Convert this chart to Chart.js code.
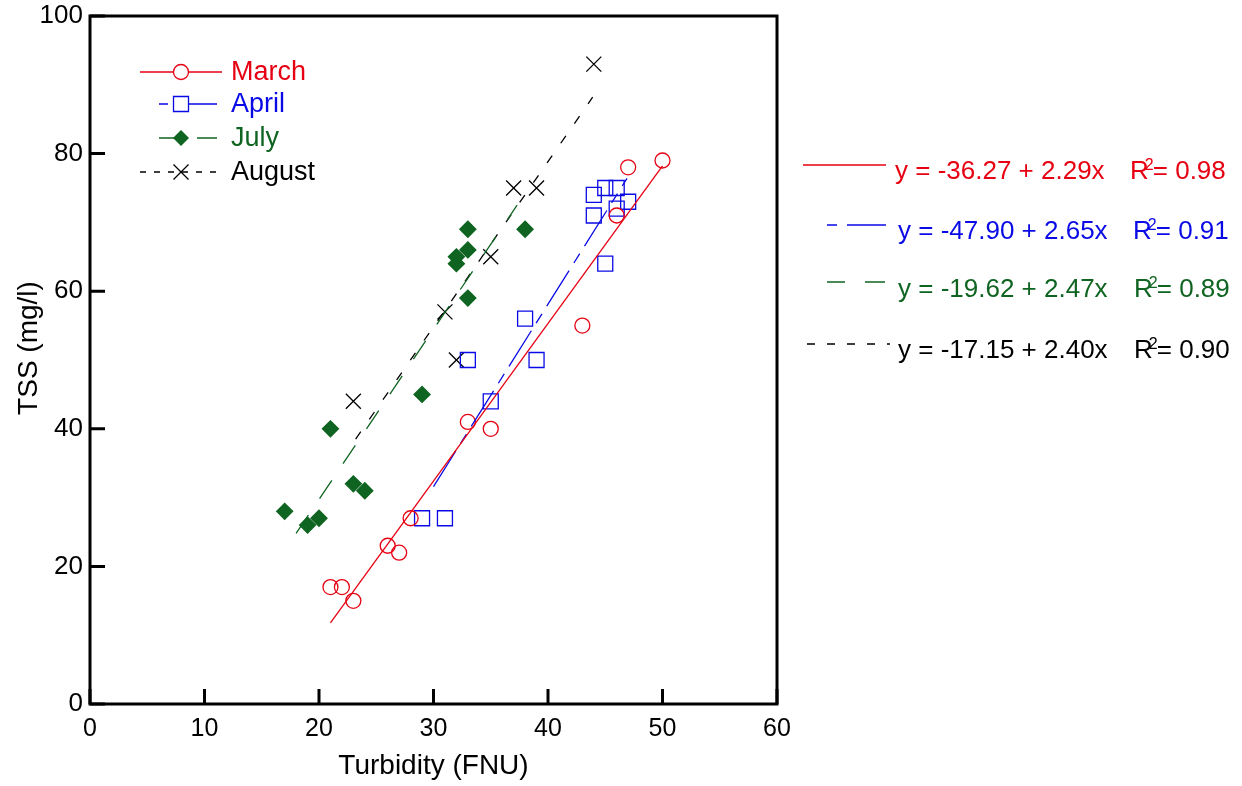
<!DOCTYPE html>
<html>
<head>
<meta charset="utf-8">
<title>TSS vs Turbidity</title>
<script src="https://cdn.jsdelivr.net/npm/chart.js@4.4.0/dist/chart.umd.min.js"></script>
<style>
html, body { margin: 0; padding: 0; background: #fff; }
#wrap { width: 1242px; height: 786px; }
</style>
</head>
<body>
<div id="wrap"><canvas id="grafic" width="1242" height="786"></canvas></div>
<script>
// Data
const marchX = [21, 22, 23, 26, 27, 28, 33, 35, 43, 46, 47, 50];
const marchY = [17, 17, 15, 23, 22, 27, 41, 40, 55, 71, 78, 79];
const aprilX = [29, 31, 33, 35, 38, 39, 44, 44, 45, 45, 46, 46, 47];
const aprilY = [27, 27, 50, 44, 56, 50, 71, 74, 64, 75, 72, 75, 73];
const julyX = [17, 19, 20, 21, 23, 24, 29, 32, 32, 33, 33, 33, 38];
const julyY = [28, 26, 27, 40, 32, 31, 45, 64, 65, 59, 66, 69, 69];
const augustX = [23, 31, 32, 35, 37, 39, 44];
const augustY = [44, 57, 50, 65, 75, 75, 93];

// Regression line ends
const fitMarchX = [21, 50];
const fitMarchY = [11.8, 78.2];
const fitAprilX = [30, 46.9];
const fitAprilY = [31.6, 76.4];
const fitJulyX = [18, 37.3];
const fitJulyY = [24.8, 72.5];
const fitAugustX = [23.2, 43.9];
const fitAugustY = [38.5, 88.2];

// Ticks and labels
const xTicks = [0, 10, 20, 30, 40, 50, 60];
const yTicks = [0, 20, 40, 60, 80, 100];
const legendNames = ['March', 'April', 'July', 'August'];
const equations = ['y = -36.27 + 2.29x', 'y = -47.90 + 2.65x', 'y = -19.62 + 2.47x', 'y = -17.15 + 2.40x'];
const rSquared = ['= 0.98', '= 0.91', '= 0.89', '= 0.90'];

// Colours and styles
const RED = '#e60012', BLUE = '#0a0ae6', GREEN = '#0e6420', BLACK = '#000';
const FONT = '"Liberation Sans", Arial, sans-serif';
const dashMarch = [], dashApril = [42, 9, 11, 9], dashJuly = [22, 20], dashAugust = [9, 15];

function points(xs, ys) { return xs.map((x, i) => ({ x: x, y: ys[i] })); }

function fitSet(xs, ys, color, dash) {
    return { type: 'line', data: points(xs, ys), borderColor: color, borderWidth: 1.3, borderDash: dash,
             pointRadius: 0, fill: false, tension: 0 };
}
function dotSet(xs, ys, color, style, r, fillColor) {
    return { type: 'scatter', data: points(xs, ys), showLine: false, pointStyle: style, pointRadius: r,
             pointHoverRadius: r, borderColor: color, backgroundColor: fillColor, pointBorderWidth: 1.3 };
}

// Draw a marker by hand (for legend)
function marker(ctx, kind, x, y, color) {
    ctx.save();
    ctx.setLineDash([]);
    ctx.strokeStyle = color; ctx.fillStyle = color; ctx.lineWidth = 1.3;
    ctx.beginPath();
    if (kind === 'circle') { ctx.fillStyle = '#fff'; ctx.arc(x, y, 7.5, 0, Math.PI * 2); ctx.fill(); ctx.stroke(); }
    if (kind === 'rect') { ctx.fillStyle = '#fff'; ctx.rect(x - 7.5, y - 7.5, 15, 15); ctx.fill(); ctx.stroke(); }
    if (kind === 'diamond') { ctx.moveTo(x, y - 8); ctx.lineTo(x + 8, y); ctx.lineTo(x, y + 8); ctx.lineTo(x - 8, y); ctx.closePath(); ctx.fill(); }
    if (kind === 'cross') { ctx.moveTo(x - 7.5, y - 7.5); ctx.lineTo(x + 7.5, y + 7.5); ctx.moveTo(x + 7.5, y - 7.5); ctx.lineTo(x - 7.5, y + 7.5); ctx.stroke(); }
    ctx.restore();
}

// line pieces [x1, x2] at height y
function segs(ctx, list, y, color) {
    ctx.save();
    ctx.strokeStyle = color; ctx.lineWidth = 1.3;
    ctx.beginPath();
    list.forEach(s => { ctx.moveTo(s[0], y); ctx.lineTo(s[1], y); });
    ctx.stroke();
    ctx.restore();
}
function dashLine(ctx, x1, x2, y, color, dash) {
    ctx.save();
    ctx.strokeStyle = color; ctx.lineWidth = 1.3;
    ctx.setLineDash(dash);
    ctx.beginPath(); ctx.moveTo(x1, y); ctx.lineTo(x2, y); ctx.stroke();
    ctx.restore();
}

// Frame, inner ticks, titles and both legends
const extras = {
    id: 'extras',
    afterDraw(chart) {
        const { ctx, chartArea: a, scales } = chart;
        ctx.save();
        ctx.strokeStyle = '#000'; ctx.lineWidth = 3;
        ctx.strokeRect(a.left, a.top, a.right - a.left, a.bottom - a.top);
        ctx.beginPath();
        xTicks.forEach(v => { const px = scales.x.getPixelForValue(v); ctx.moveTo(px, a.bottom); ctx.lineTo(px, a.bottom - 15); });
        yTicks.forEach(v => { const py = scales.y.getPixelForValue(v); ctx.moveTo(a.left, py); ctx.lineTo(a.left + 15, py); });
        ctx.stroke();

        // axis titles
        ctx.fillStyle = '#000';
        ctx.font = '28px ' + FONT;
        ctx.textAlign = 'center'; ctx.textBaseline = 'alphabetic';
        ctx.fillText('Turbidity (FNU)', (a.left + a.right) / 2, 774);
        ctx.save();
        ctx.translate(37, 348); ctx.rotate(-Math.PI / 2);
        ctx.fillText('TSS (mg/l)', 0, 0);
        ctx.restore();

        // legend inside the plot
        const colors = [RED, BLUE, GREEN, BLACK];
        const kinds = ['circle', 'rect', 'diamond', 'cross'];
        const legY = [72, 104, 138, 172];
        segs(ctx, [[140, 222]], legY[0], RED);
        segs(ctx, [[159, 168], [174, 217]], legY[1], BLUE);
        segs(ctx, [[159, 176], [197, 217]], legY[2], GREEN);
        dashLine(ctx, 140, 222, legY[3], BLACK, [6, 8]);
        legendNames.forEach((n, i) => {
            marker(ctx, kinds[i], 181, legY[i], colors[i]);
            ctx.fillStyle = colors[i];
            ctx.font = '27px ' + FONT;
            ctx.textAlign = 'left'; ctx.textBaseline = 'middle';
            ctx.fillText(n, 231, legY[i] + 1);
        });

        // regression equations on the right
        const eqLineY = [165, 225, 282, 344];
        const eqTextY = [172, 232, 290, 351];
        const rX = [1130, 1133, 1134, 1134];
        segs(ctx, [[803, 886]], eqLineY[0], RED);
        segs(ctx, [[827, 837], [847, 886]], eqLineY[1], BLUE);
        segs(ctx, [[827, 845], [865, 885]], eqLineY[2], GREEN);
        dashLine(ctx, 807, 890, eqLineY[3], BLACK, [8, 12]);
        equations.forEach((e, i) => {
            ctx.fillStyle = colors[i];
            ctx.textAlign = 'left'; ctx.textBaseline = 'middle';
            ctx.font = '26px ' + FONT;
            ctx.fillText(e, i === 0 ? 895 : 898, eqTextY[i]);
            ctx.fillText('R', rX[i], eqTextY[i]);
            const rw = ctx.measureText('R').width;
            ctx.fillText(rSquared[i], rX[i] + rw + 4, eqTextY[i]);
            ctx.font = '16px ' + FONT;
            ctx.textBaseline = 'top';
            ctx.fillText('2', rX[i] + rw - 4, eqTextY[i] - 14);
        });
        ctx.restore();
    }
};

const grafic = new Chart(document.getElementById('grafic').getContext('2d'), {
    data: {
        datasets: [
            fitSet(fitMarchX, fitMarchY, RED, dashMarch),
            fitSet(fitAprilX, fitAprilY, BLUE, dashApril),
            fitSet(fitJulyX, fitJulyY, GREEN, dashJuly),
            fitSet(fitAugustX, fitAugustY, BLACK, dashAugust),
            dotSet(marchX, marchY, RED, 'circle', 7.5, 'rgba(0,0,0,0)'),
            dotSet(aprilX, aprilY, BLUE, 'rect', 10.6, 'rgba(0,0,0,0)'),
            dotSet(julyX, julyY, GREEN, 'rectRot', 8, GREEN),
            dotSet(augustX, augustY, BLACK, 'crossRot', 10.6, BLACK)
        ]
    },
    options: {
        responsive: false,
        animation: false,
        events: [],
        layout: { padding: { left: 0, top: 16, right: 465, bottom: 0 } },
        plugins: { legend: { display: false }, tooltip: { enabled: false } },
        scales: {
            x: {
                type: 'linear', min: 0, max: 60,
                grid: { display: false, drawTicks: false },
                border: { display: false },
                ticks: { stepSize: 10, padding: 10, color: '#000', font: { family: FONT, size: 25 } },
                afterFit: s => { s.height = 82; s.paddingLeft = 0; s.paddingRight = 0; }
            },
            y: {
                type: 'linear', min: 0, max: 100,
                grid: { display: false, drawTicks: false },
                border: { display: false },
                ticks: { stepSize: 20, padding: 7, color: '#000', font: { family: FONT, size: 26 } },
                afterFit: s => { s.width = 90; s.paddingTop = 0; s.paddingBottom = 0; }
            }
        }
    },
    plugins: [extras]
});
</script>
</body>
</html>
